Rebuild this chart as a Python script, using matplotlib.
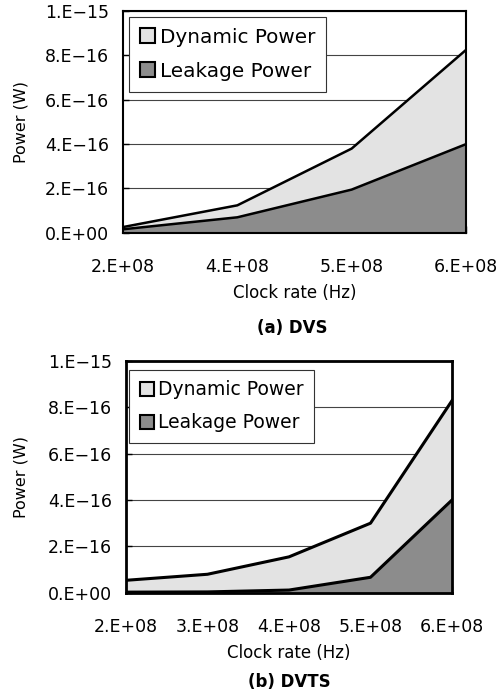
import matplotlib
matplotlib.use("Agg")
import matplotlib.pyplot as plt
from matplotlib.patches import Patch

plt.rcParams['font.family'] = ['DejaVu Sans']

# (a) DVS
dvs_clock = ["2.E+08", "4.E+08", "5.E+08", "6.E+08"]
dvs_leakage = [1.6e-17, 7.0e-17, 1.95e-16, 4.0e-16]
dvs_total = [2.6e-17, 1.24e-16, 3.8e-16, 8.25e-16]

# (b) DVTS
dvts_clock = ["2.E+08", "3.E+08", "4.E+08", "5.E+08", "6.E+08"]
dvts_leakage = [0.3e-17, 0.4e-17, 1.2e-17, 6.7e-17, 4.0e-16]
dvts_total = [5.4e-17, 8.0e-17, 1.55e-16, 3.0e-16, 8.28e-16]

y_ticks = [0, 2e-16, 4e-16, 6e-16, 8e-16, 1e-15]
y_labels = ["0.E+00", "2.E\u221216", "4.E\u221216", "6.E\u221216", "8.E\u221216", "1.E\u221215"]

dyn_color = "#e3e3e3"
leak_color = "#8c8c8c"

fig = plt.figure(figsize=(5, 6.95), dpi=100)


def draw(ax, cats, leak, total, lw, frame_lw, legend_fs, legend_pos, lab_x):
    x = list(range(len(cats)))
    ax.fill_between(x, 0, total, color=dyn_color, zorder=2)
    ax.fill_between(x, 0, leak, color=leak_color, zorder=3)
    ax.plot(x, total, color="black", lw=lw, zorder=4)
    ax.plot(x, leak, color="black", lw=lw, zorder=4)
    ax.set_xlim(0, len(cats) - 1)
    ax.set_ylim(0, 1e-15)
    ax.set_xticks(x)
    ax.set_xticklabels(cats, fontsize=12.5)
    ax.set_yticks(y_ticks)
    ax.set_yticklabels(y_labels, fontsize=12.5)
    ax.tick_params(axis="x", direction="in", length=5, pad=18, width=1)
    ax.tick_params(axis="y", direction="in", length=4, pad=10, width=1)
    ax.grid(axis="y", color="#444444", lw=0.8, zorder=1)
    ax.set_axisbelow(True)
    for s in ax.spines.values():
        s.set_linewidth(frame_lw)
        s.set_zorder(5)
    ax.set_xlabel("Clock rate (Hz)", fontsize=12, labelpad=6)
    ax.set_ylabel("Power (W)", fontsize=11.5)
    ax.yaxis.set_label_coords(lab_x, 0.5)
    handles = [Patch(facecolor=dyn_color, edgecolor="black", lw=1.5, label="Dynamic Power"),
               Patch(facecolor=leak_color, edgecolor="black", lw=1.5, label="Leakage Power")]
    leg = ax.legend(handles=handles, loc="upper left", bbox_to_anchor=legend_pos,
                    borderaxespad=0, fancybox=False, framealpha=1, edgecolor="#333333",
                    fontsize=legend_fs, handlelength=0.75, handleheight=0.75,
                    handletextpad=0.25, labelspacing=0.75, borderpad=0.55)
    leg.get_frame().set_linewidth(0.8)
    leg.set_zorder(6)


ax1 = fig.add_axes([0.246, 0.665, 0.686, 0.319])
draw(ax1, dvs_clock, dvs_leakage, dvs_total, 1.8, 1.5, 14.4, (0.017, 0.975), -0.276)
fig.text(0.585, 0.528, "(a) DVS", ha="center", va="center", fontsize=12, fontweight="bold")

ax2 = fig.add_axes([0.252, 0.147, 0.652, 0.334])
draw(ax2, dvts_clock, dvts_leakage, dvts_total, 2.2, 2.0, 13.5, (0.01, 0.96), -0.30)
fig.text(0.578, 0.019, "(b) DVTS", ha="center", va="center", fontsize=12, fontweight="bold")

fig.savefig("out.png", dpi=100)
